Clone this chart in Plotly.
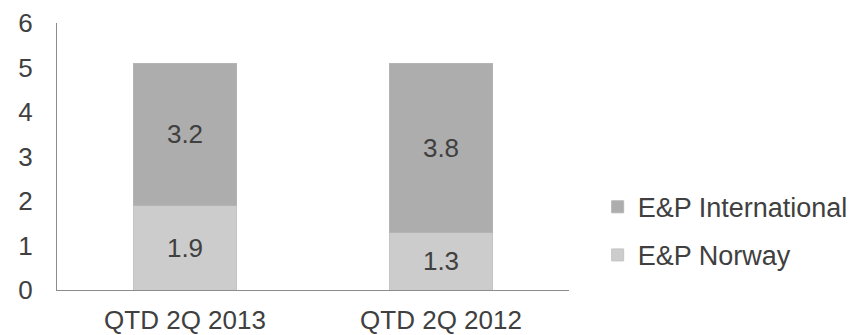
import plotly.graph_objects as go

categories = ["QTD 2Q 2013", "QTD 2Q 2012"]
norway = [1.9, 1.3]
international = [3.2, 3.8]
y_ticks = [0, 1, 2, 3, 4, 5, 6]

font_family = "Liberation Sans, Arial, sans-serif"
text_color = "#404040"

fig = go.Figure()
fig.add_trace(go.Bar(
    name="E&P Norway", x=categories, y=norway, legendgroup="n", legendrank=2,
    marker=dict(color="#cccccc", line=dict(color="#c4c4c4", width=1)),
    text=[f"{v:.1f}" for v in norway], textposition="inside",
    insidetextanchor="middle",
    textfont=dict(size=26, color=text_color, family=font_family),
))
fig.add_trace(go.Bar(
    name="E&P International", x=categories, y=international, legendgroup="i", legendrank=1,
    marker=dict(color="#adadad", line=dict(color="#b4b4b4", width=1)),
    text=[f"{v:.1f}" for v in international], textposition="inside",
    insidetextanchor="middle",
    textfont=dict(size=26, color=text_color, family=font_family),
))

fig.update_layout(
    barmode="stack", bargap=0.6,
    width=858, height=335,
    margin=dict(l=57, r=289, t=23, b=45, autoexpand=False),
    paper_bgcolor="white", plot_bgcolor="white",
    font=dict(family=font_family, size=26, color=text_color),
    uniformtext=dict(mode="show", minsize=10),
    legend=dict(
        traceorder="grouped", tracegroupgap=10,
        x=1.056, xanchor="left", y=0.22, yanchor="middle",
        font=dict(size=27, color=text_color), itemwidth=30,
        bgcolor="rgba(0,0,0,0)",
    ),
    showlegend=True,
)
fig.update_yaxes(
    range=[0, 6], tickvals=y_ticks, showgrid=False, zeroline=False,
    showline=True, linecolor="#8c8c8c", linewidth=1, automargin=False,
    ticks="outside", ticklen=18, tickcolor="rgba(0,0,0,0)",
    tickfont=dict(size=26, color=text_color),
)
fig.update_xaxes(
    showgrid=False, showline=True, linecolor="#8c8c8c", linewidth=1,
    automargin=False,
    ticks="outside", ticklen=7, tickcolor="rgba(0,0,0,0)",
    tickfont=dict(size=26, color=text_color),
)

fig.write_html("out.html", config={"displayModeBar": False})

# remove the default page margin so the figure sits at the window's corner
with open("out.html", "r", encoding="utf-8") as f:
    html = f.read()
html = html.replace("<head>", "<head><style>html,body{margin:0;padding:0;overflow:hidden;}</style>", 1)
with open("out.html", "w", encoding="utf-8") as f:
    f.write(html)
